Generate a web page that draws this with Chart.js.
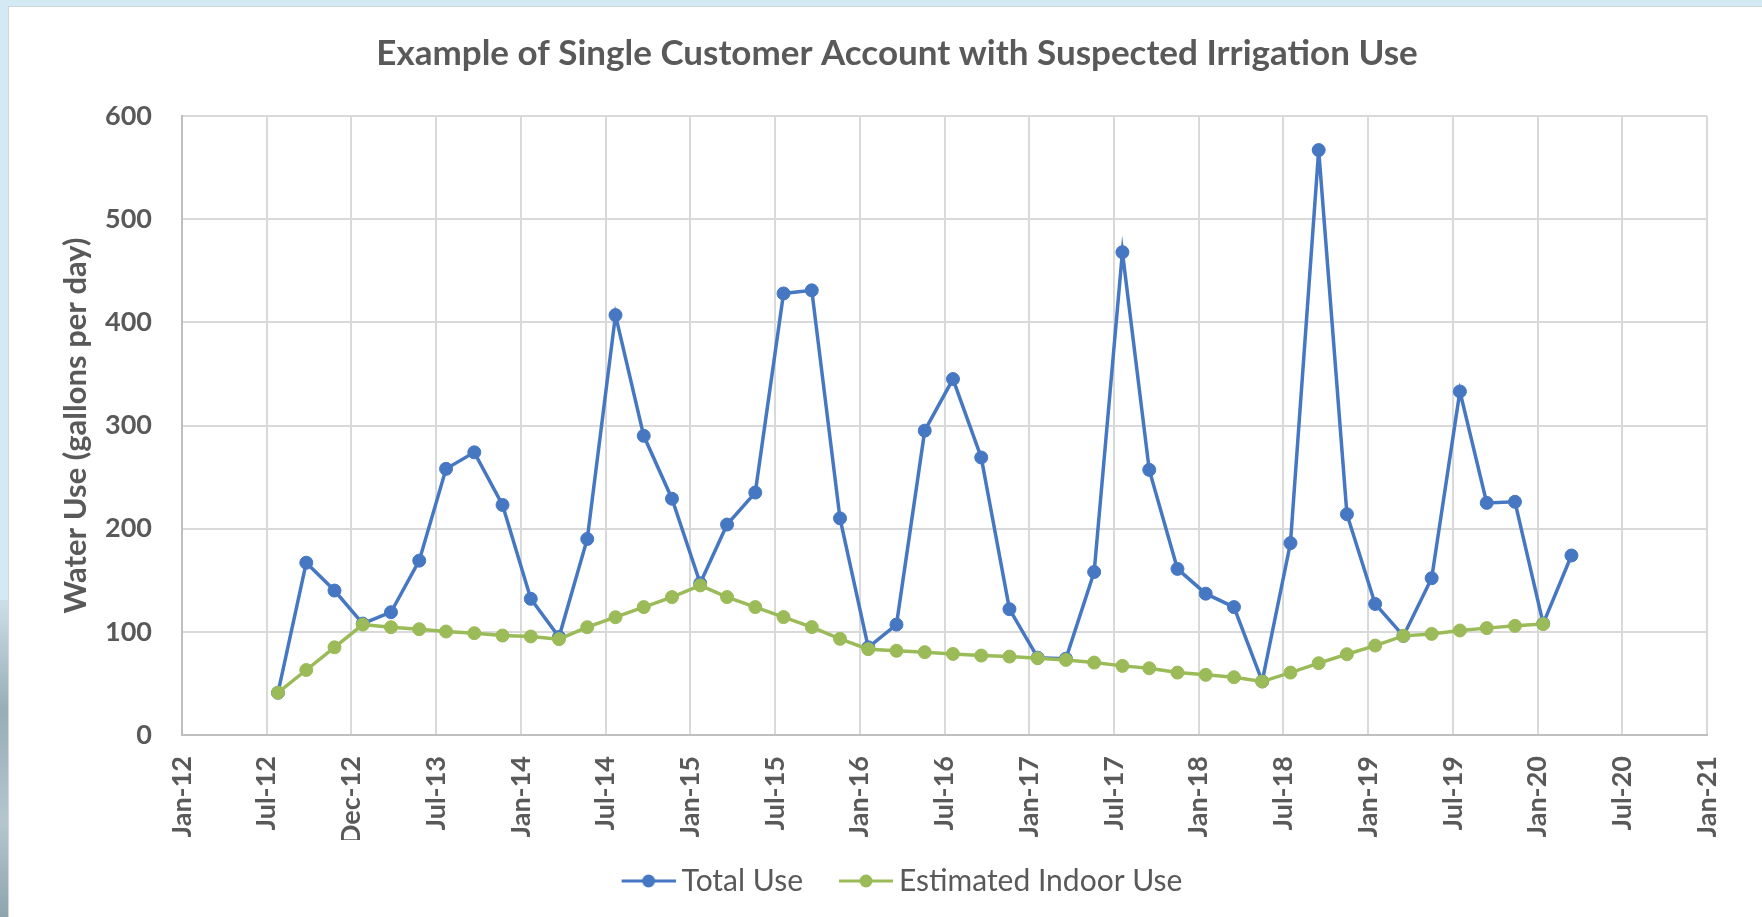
<!DOCTYPE html>
<html>
<head>
<meta charset="utf-8">
<title>Example of Single Customer Account with Suspected Irrigation Use</title>
<script src="https://cdn.jsdelivr.net/npm/chart.js@4.4.0/dist/chart.umd.min.js"></script>
<style>
  html, body { margin: 0; padding: 0; }
  body { width: 1762px; height: 917px; overflow: hidden; background: #d3eaf4; position: relative; }
  #photo { position: absolute; left: 0; top: 600px; width: 8px; height: 317px;
           background: linear-gradient(#cddfe6, #98adb7 35%, #b5c6cd 70%, #8fa4ad); }
  #panel { position: absolute; left: 8px; top: 6px; width: 1800px; height: 940px;
           background: #fff; border: 1px solid #cfd5d8; }
  #chart { position: absolute; left: 0; top: 0; }
</style>
</head>
<body>
<div id="photo"></div>
<div id="panel"><canvas id="chart" width="1776" height="910"></canvas></div>
<script>
// x axis labels, one every 6 months from Jan-12 (month 0) to Jan-21 (month 108)
const tickLabels = ["Jan-12", "Jul-12", "Dec-12", "Jul-13", "Jan-14", "Jul-14", "Jan-15",
  "Jul-15", "Jan-16", "Jul-16", "Jan-17", "Jul-17", "Jan-18", "Jul-18", "Jan-19",
  "Jul-19", "Jan-20", "Jul-20", "Jan-21"];

// reading dates, in months since Jan 2012 (bi-monthly meter reads)
const readMonths = [6.8, 8.8, 10.8, 12.8, 14.8, 16.8, 18.7, 20.7, 22.7, 24.7, 26.7, 28.7,
  30.7, 32.7, 34.7, 36.7, 38.6, 40.6, 42.6, 44.6, 46.6, 48.6, 50.6, 52.6, 54.6, 56.6,
  58.6, 60.6, 62.6, 64.6, 66.6, 68.5, 70.5, 72.5, 74.5, 76.5, 78.5, 80.5, 82.5, 84.5,
  86.5, 88.5, 90.5, 92.4, 94.4, 96.4, 98.4];

// gallons per day
const totalUse = [41, 167, 140, 108, 119, 169, 258, 274, 223, 132, 95, 190,
  407, 290, 229, 147, 204, 235, 428, 431, 210, 85, 107, 295, 345, 269,
  122, 75, 74, 158, 468, 257, 161, 137, 124, 52, 186, 567, 214, 127,
  96, 152, 333, 225, 226, 108, 174];

const indoorUse = [41, 63, 85, 107, 104.5, 102.6, 100.3, 98.7, 96.4, 95.5, 92.9, 104.5,
  114.2, 124, 133.7, 145, 133.7, 124, 114.3, 104.6, 93.2, 83.2, 81.6, 80.3, 78.6, 77,
  76, 74.4, 72.8, 70.2, 67, 64.7, 60.5, 58.3, 56, 51.8, 60.5, 69.6, 78.3, 86.7,
  96.1, 98, 101.3, 103.6, 105.8, 107.5];

const seriesNames = ["Total Use", "Estimated Indoor Use"];
const seriesColors = ["#4677c3", "#9bbb59"];

const FONT = "Lato, 'Open Sans', sans-serif";
const TEXT = "#595959";

// excel style legend marker: short line with a dot in the middle
// (drawn in the right part of the image so it sits close to the text)
function legendMark(color) {
  const c = document.createElement("canvas");
  c.width = 73;
  c.height = 16;
  const g = c.getContext("2d");
  g.strokeStyle = color;
  g.lineWidth = 3;
  g.beginPath();
  g.moveTo(19, 8);
  g.lineTo(73, 8);
  g.stroke();
  g.fillStyle = color;
  g.beginPath();
  g.arc(46, 8, 6.5, 0, Math.PI * 2);
  g.fill();
  return c;
}
const legendMarks = seriesColors.map(legendMark);

const toPoints = (vals) => vals.map((v, i) => ({ x: readMonths[i], y: v }));

new Chart(document.getElementById("chart"), {
  type: "line",
  data: {
    datasets: [
      {
        label: seriesNames[0],
        data: toPoints(totalUse),
        borderColor: seriesColors[0],
        backgroundColor: seriesColors[0],
        borderWidth: 3.5,
        pointRadius: 6.5,
        pointBorderWidth: 1,
        tension: 0,
        order: 1,
      },
      {
        label: seriesNames[1],
        data: toPoints(indoorUse),
        borderColor: seriesColors[1],
        backgroundColor: seriesColors[1],
        borderWidth: 3.5,
        pointRadius: 6.5,
        pointBorderWidth: 1,
        tension: 0,
        order: 0,
      },
    ],
  },
  options: {
    responsive: false,
    animation: false,
    devicePixelRatio: 1,
    layout: { padding: { left: 78, right: 78, top: 0, bottom: 11 } },
    scales: {
      x: {
        type: "linear",
        min: 0,
        max: 108,
        ticks: {
          stepSize: 6,
          maxTicksLimit: 40,
          autoSkip: false,
          minRotation: 90,
          maxRotation: 90,
          padding: 21,
          color: TEXT,
          font: { family: FONT, size: 27, weight: "bold" },
          callback: (v) => tickLabels[Math.round(v / 6)],
        },
        grid: { color: "#d9d9d9", lineWidth: 2, drawTicks: false },
        border: { color: "#bfbfbf", width: 2 },
        afterFit: (s) => { s.height = 105; },
      },
      y: {
        min: 0,
        max: 600,
        ticks: {
          stepSize: 100,
          padding: 30,
          color: TEXT,
          font: { family: FONT, size: 27, weight: "bold" },
        },
        grid: { color: "#d9d9d9", lineWidth: 2, drawTicks: false },
        border: { color: "#bfbfbf", width: 2 },
        title: {
          display: true,
          text: "Water Use (gallons per day)",
          color: TEXT,
          font: { family: FONT, size: 31, weight: "bold" },
          padding: { top: -29.2, bottom: 0 },
        },
        afterFit: (s) => { s.width = 95; },
      },
    },
    plugins: {
      title: {
        display: true,
        text: "Example of Single Customer Account with Suspected Irrigation Use",
        color: TEXT,
        font: { family: FONT, size: 35, weight: "bold" },
        padding: { top: 26, bottom: 41 },
      },
      legend: {
        position: "bottom",
        labels: {
          usePointStyle: true,
          pointStyleWidth: 55,
          padding: 26,
          color: TEXT,
          font: { family: FONT, size: 30 },
          sort: (a, b) => a.datasetIndex - b.datasetIndex,
          generateLabels: (chart) => {
            const items = Chart.defaults.plugins.legend.labels.generateLabels(chart);
            items.forEach((it) => { it.pointStyle = legendMarks[it.datasetIndex]; });
            return items;
          },
        },
      },
      tooltip: { enabled: false },
    },
  },
});
</script>
</body>
</html>
